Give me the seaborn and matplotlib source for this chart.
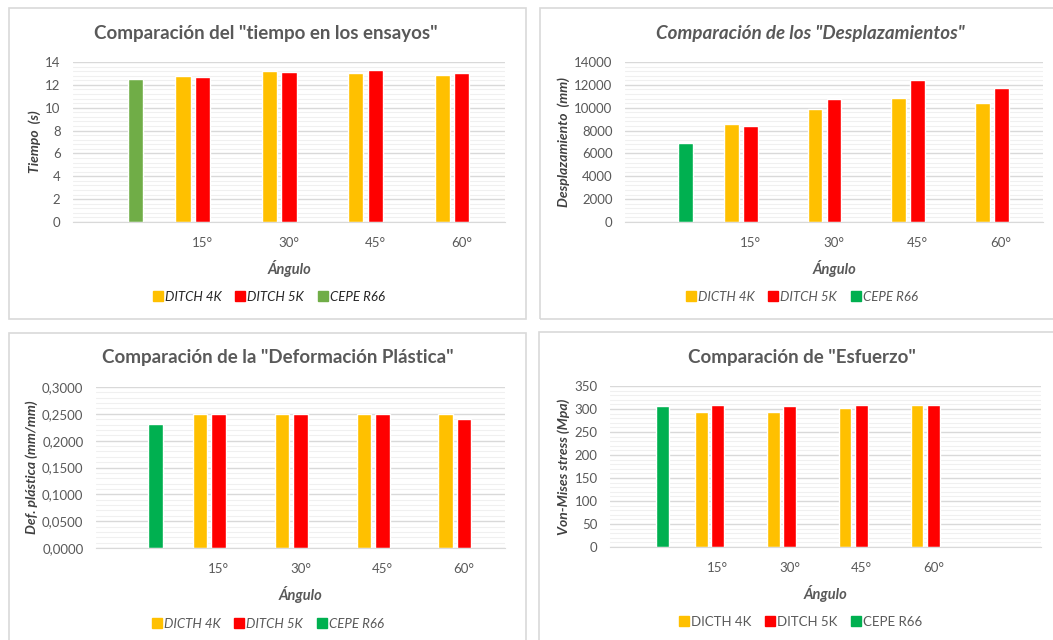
import pandas as pd
import seaborn as sns
import numpy as np
import matplotlib.pyplot as plt
from matplotlib.lines import Line2D
from matplotlib.patches import Rectangle
from matplotlib.ticker import MultipleLocator, AutoMinorLocator, FuncFormatter

# data
angulos = ['', '15°', '30°', '45°', '60°']
cepe_tiempo = 12.5
ditch4k_tiempo = [12.8, 13.2, 13.0, 12.9]
ditch5k_tiempo = [12.7, 13.1, 13.3, 13.0]

cepe_desp = 6900
ditch4k_desp = [8600, 9900, 10850, 10450]
ditch5k_desp = [8400, 10750, 12450, 11750]

cepe_def = 0.231
ditch4k_def = [0.25, 0.25, 0.25, 0.25]
ditch5k_def = [0.25, 0.25, 0.25, 0.24]

cepe_esf = 307
ditch4k_esf = [293, 293, 302, 309]
ditch5k_esf = [309, 307, 309, 309]

series = ['DITCH 4K', 'DITCH 5K', 'CEPE R66']

sns.set_style('white')
plt.rcParams['font.family'] = ['Lato', 'DejaVu Sans']

W, H = 1053, 640
fig = plt.figure(figsize=(W / 100, H / 100), dpi=100)

GREY = '#595959'
YELLOW = '#FFC000'
RED = '#FF0000'


def px_axes(x0, y0, x1, y1):
    return fig.add_axes([x0 / W, 1 - y1 / H, (x1 - x0) / W, (y1 - y0) / H])


def make_df(cepe, d4, d5):
    rows = [{'ang': angulos[0], 'serie': 'CEPE R66', 'val': cepe}]
    for a, v4, v5 in zip(angulos[1:], d4, d5):
        rows.append({'ang': a, 'serie': 'DITCH 4K', 'val': v4})
        rows.append({'ang': a, 'serie': 'DITCH 5K', 'val': v5})
    return pd.DataFrame(rows)


def panel(box, ax_box, df, order, green, title, title_style, ylabel, ymax, ystep,
          fmt, leg_labels, leg_style, leg_color, leg_xy):
    # panel border
    bx0, by0, bx1, by1 = box
    fig.patches.append(Rectangle((bx0 / W, 1 - by1 / H), (bx1 - bx0) / W, (by1 - by0) / H,
                                 transform=fig.transFigure, fill=False,
                                 edgecolor='#D9D9D9', linewidth=1.2))
    ax = px_axes(*ax_box)
    sns.barplot(data=df, x='ang', y='val', hue='serie', order=order, hue_order=series,
                palette=[YELLOW, RED, green], saturation=1, width=0.68, gap=0.22,
                errorbar=None, legend=False, ax=ax)
    ax.set_ylim(0, ymax)
    ax.set_xlim(-0.5, len(order) - 0.5)
    ax.yaxis.set_major_locator(MultipleLocator(ystep))
    ax.yaxis.set_minor_locator(AutoMinorLocator(5))
    ax.yaxis.set_major_formatter(FuncFormatter(fmt))
    ax.grid(axis='y', which='major', color='#D9D9D9', linewidth=1.0)
    ax.grid(axis='y', which='minor', color='#F0F0F0', linewidth=0.8)
    ax.set_axisbelow(True)
    for s in ['top', 'right', 'left']:
        ax.spines[s].set_visible(False)
    ax.spines['bottom'].set_color('#D9D9D9')
    ax.tick_params(axis='both', which='both', length=0, colors=GREY, labelsize=9.5)
    ax.tick_params(axis='y', pad=9)
    ax.tick_params(axis='x', pad=11)
    ax.set_xlabel('Ángulo', fontsize=10.5, fontweight='bold', fontstyle='italic',
                  color=GREY, labelpad=8)
    ax.set_ylabel(ylabel, fontsize=10, fontweight='bold', fontstyle='italic',
                  color='#404040', labelpad=3)
    fig.text(ax_box[0] / W + (ax_box[2] - ax_box[0]) / W / 2 - 0.022, 1 - title_style[1] / H,
             title, ha='center', va='center', fontsize=13.5, fontweight='bold',
             fontstyle=title_style[0], color=GREY)
    handles = [Line2D([], [], marker='s', linestyle='none', markersize=6.5, color=c)
               for c in [YELLOW, RED, green]]
    fig.legend(handles, leg_labels, loc='center', ncol=3, frameon=False,
               bbox_to_anchor=(leg_xy[0] / W, 1 - leg_xy[1] / H),
               handletextpad=0.05, columnspacing=0.9, handlelength=1.0,
               prop={'family': 'Lato', 'style': leg_style, 'size': 9.5},
               labelcolor=leg_color)
    return ax


dec0 = lambda v, p: f'{v:.0f}'
dec4 = lambda v, p: f'{v:.4f}'.replace('.', ',')

panel((9, 8, 526, 319), (73, 62, 505, 222),
      make_df(cepe_tiempo, ditch4k_tiempo, ditch5k_tiempo), angulos, '#70AD47',
      'Comparación del "tiempo en los ensayos"', ('normal', 33), 'Tiempo  (s)', 14, 2,
      dec0, ['DITCH 4K', 'DITCH 5K', 'CEPE R66'], 'italic', '#262626', (268, 297))

panel((540, 8, 1060, 319), (625, 62, 1043, 222),
      make_df(cepe_desp, ditch4k_desp, ditch5k_desp), angulos, '#00B050',
      'Comparación de los "Desplazamientos"', ('italic', 33), 'Desplazamiento  (mm)', 14000, 2000,
      dec0, ['DICTH 4K', 'DITCH 5K', 'CEPE R66'], 'italic', GREY, (801, 297))

panel((9, 333, 526, 650), (96, 387, 505, 548),
      make_df(cepe_def, ditch4k_def, ditch5k_def), angulos, '#00B050',
      'Comparación de la "Deformación Plástica"', ('normal', 358), 'Def. plástica (mm/mm)', 0.3, 0.05,
      dec4, ['DICTH 4K', 'DITCH 5K', 'CEPE R66'], 'italic', GREY, (267, 624))

panel((539, 332, 1060, 650), (610, 386, 1041, 547),
      make_df(cepe_esf, ditch4k_esf, ditch5k_esf), angulos + [' '], '#00B050',
      'Comparación de "Esfuerzo"', ('normal', 357), 'Von-Mises stress (Mpa)', 350, 50,
      dec0, ['DICTH 4K', 'DITCH 5K', 'CEPE R66'], 'normal', GREY, (800, 622))

fig.savefig('out.png', dpi=100)
